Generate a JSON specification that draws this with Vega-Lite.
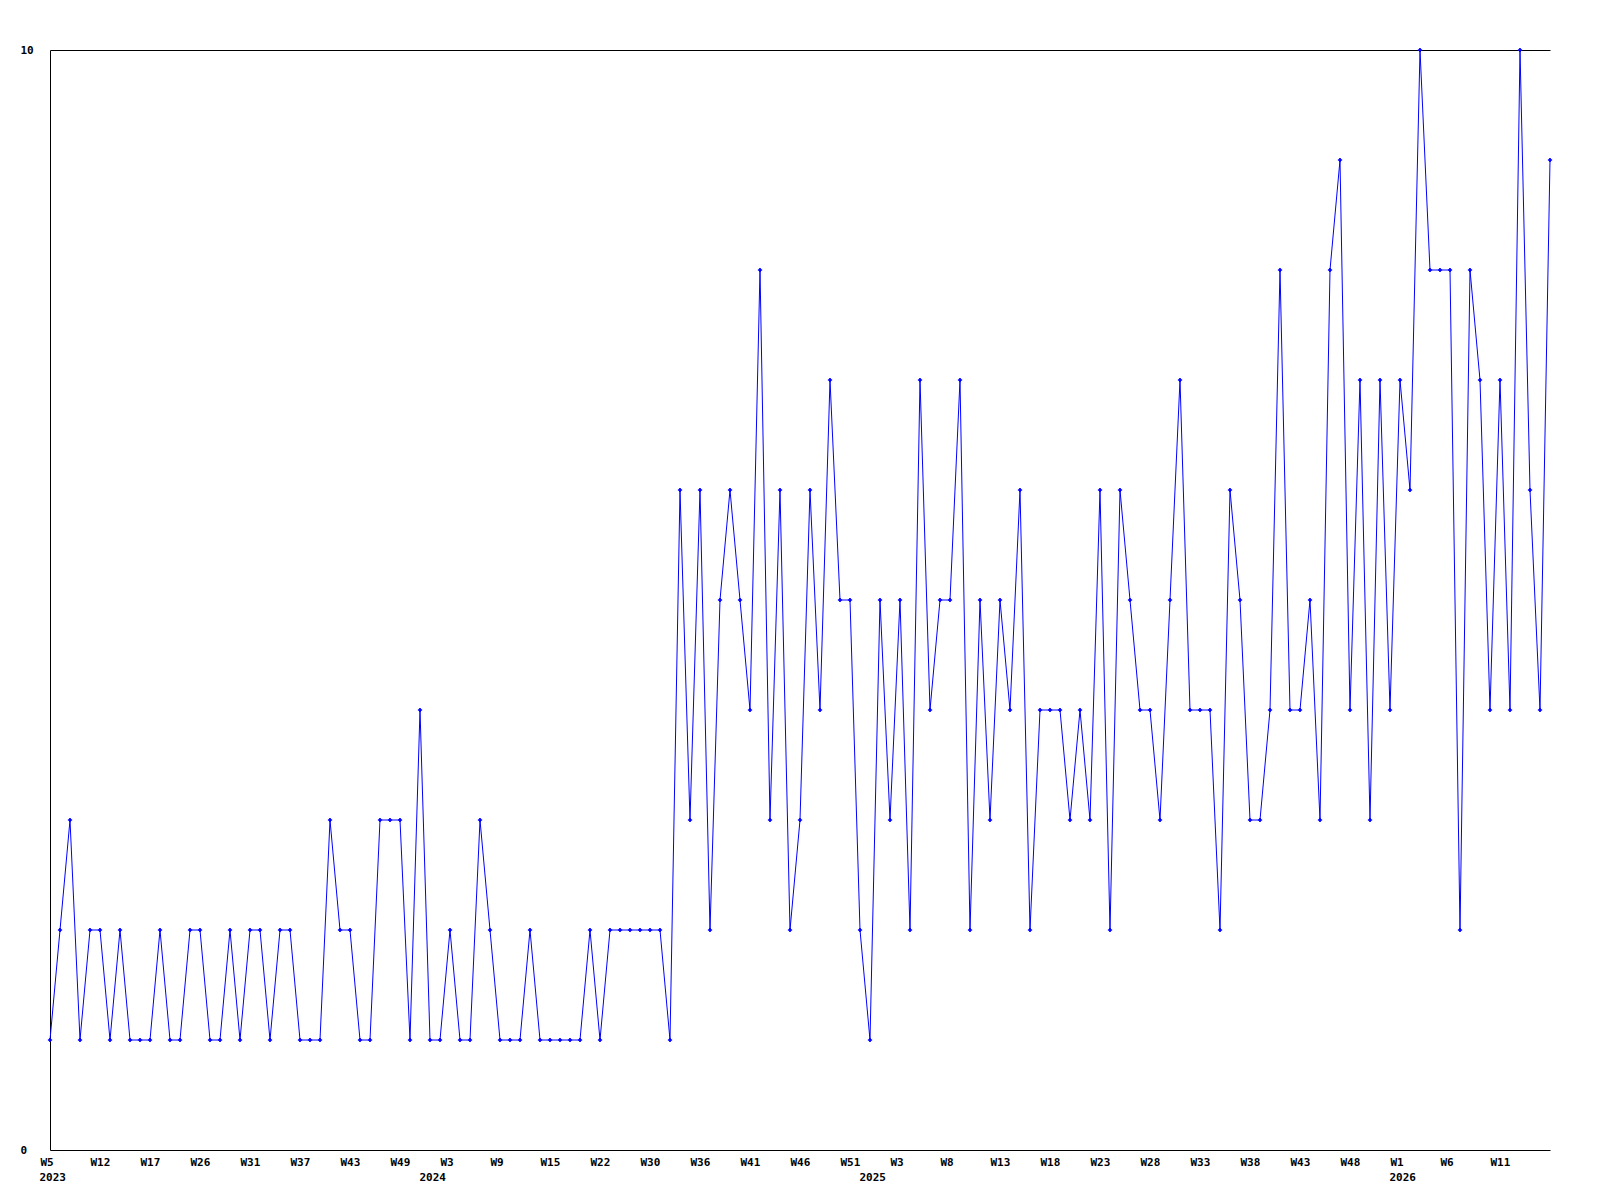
{
  "$schema": "https://vega.github.io/schema/vega-lite/v6.json",
  "width": 1500,
  "height": 1100,
  "autosize": {"type": "none"},
  "padding": {"left": 50, "top": 50, "right": 50, "bottom": 50},
  "background": "white",
  "config": {
    "view": {"stroke": null},
    "axis": {
      "labelFont": "DejaVu Sans Mono",
      "labelFontWeight": "bold",
      "labelFontSize": 11,
      "labelColor": "black",
      "domainColor": "black",
      "domainWidth": 1,
      "grid": false,
      "ticks": false,
      "tickSize": 0,
      "title": null,
      "labelOverlap": false,
      "labelFlush": false,
      "labelBound": false
    }
  },
  "data": {
    "values": [
      {"i":0,"v":1},{"i":1,"v":2},{"i":2,"v":3},{"i":3,"v":1},{"i":4,"v":2},{"i":5,"v":2},{"i":6,"v":1},{"i":7,"v":2},{"i":8,"v":1},{"i":9,"v":1},
      {"i":10,"v":1},{"i":11,"v":2},{"i":12,"v":1},{"i":13,"v":1},{"i":14,"v":2},{"i":15,"v":2},{"i":16,"v":1},{"i":17,"v":1},{"i":18,"v":2},{"i":19,"v":1},
      {"i":20,"v":2},{"i":21,"v":2},{"i":22,"v":1},{"i":23,"v":2},{"i":24,"v":2},{"i":25,"v":1},{"i":26,"v":1},{"i":27,"v":1},{"i":28,"v":3},{"i":29,"v":2},
      {"i":30,"v":2},{"i":31,"v":1},{"i":32,"v":1},{"i":33,"v":3},{"i":34,"v":3},{"i":35,"v":3},{"i":36,"v":1},{"i":37,"v":4},{"i":38,"v":1},{"i":39,"v":1},
      {"i":40,"v":2},{"i":41,"v":1},{"i":42,"v":1},{"i":43,"v":3},{"i":44,"v":2},{"i":45,"v":1},{"i":46,"v":1},{"i":47,"v":1},{"i":48,"v":2},{"i":49,"v":1},
      {"i":50,"v":1},{"i":51,"v":1},{"i":52,"v":1},{"i":53,"v":1},{"i":54,"v":2},{"i":55,"v":1},{"i":56,"v":2},{"i":57,"v":2},{"i":58,"v":2},{"i":59,"v":2},
      {"i":60,"v":2},{"i":61,"v":2},{"i":62,"v":1},{"i":63,"v":6},{"i":64,"v":3},{"i":65,"v":6},{"i":66,"v":2},{"i":67,"v":5},{"i":68,"v":6},{"i":69,"v":5},
      {"i":70,"v":4},{"i":71,"v":8},{"i":72,"v":3},{"i":73,"v":6},{"i":74,"v":2},{"i":75,"v":3},{"i":76,"v":6},{"i":77,"v":4},{"i":78,"v":7},{"i":79,"v":5},
      {"i":80,"v":5},{"i":81,"v":2},{"i":82,"v":1},{"i":83,"v":5},{"i":84,"v":3},{"i":85,"v":5},{"i":86,"v":2},{"i":87,"v":7},{"i":88,"v":4},{"i":89,"v":5},
      {"i":90,"v":5},{"i":91,"v":7},{"i":92,"v":2},{"i":93,"v":5},{"i":94,"v":3},{"i":95,"v":5},{"i":96,"v":4},{"i":97,"v":6},{"i":98,"v":2},{"i":99,"v":4},
      {"i":100,"v":4},{"i":101,"v":4},{"i":102,"v":3},{"i":103,"v":4},{"i":104,"v":3},{"i":105,"v":6},{"i":106,"v":2},{"i":107,"v":6},{"i":108,"v":5},{"i":109,"v":4},
      {"i":110,"v":4},{"i":111,"v":3},{"i":112,"v":5},{"i":113,"v":7},{"i":114,"v":4},{"i":115,"v":4},{"i":116,"v":4},{"i":117,"v":2},{"i":118,"v":6},{"i":119,"v":5},
      {"i":120,"v":3},{"i":121,"v":3},{"i":122,"v":4},{"i":123,"v":8},{"i":124,"v":4},{"i":125,"v":4},{"i":126,"v":5},{"i":127,"v":3},{"i":128,"v":8},{"i":129,"v":9},
      {"i":130,"v":4},{"i":131,"v":7},{"i":132,"v":3},{"i":133,"v":7},{"i":134,"v":4},{"i":135,"v":7},{"i":136,"v":6},{"i":137,"v":10},{"i":138,"v":8},{"i":139,"v":8},
      {"i":140,"v":8},{"i":141,"v":2},{"i":142,"v":8},{"i":143,"v":7},{"i":144,"v":4},{"i":145,"v":7},{"i":146,"v":4},{"i":147,"v":10},{"i":148,"v":6},{"i":149,"v":4},
      {"i":150,"v":9}
    ]
  },
  "encoding": {
    "y": {
      "field": "v",
      "type": "quantitative",
      "scale": {"domain": [0, 10], "nice": false, "zero": true},
      "axis": {"values": [0, 10], "labelAlign": "left", "labelPadding": 30, "labelBaseline": "middle", "title": null}
    }
  },
  "layer": [
    {
      "mark": {"type": "line", "color": "#0000ff", "strokeWidth": 1},
      "encoding": {
        "x": {
          "field": "i",
          "type": "quantitative",
          "scale": {"domain": [0, 150], "nice": false, "zero": false},
          "axis": {
            "orient": "bottom",
            "values": [0,5,10,15,20,25,30,35,40,45,50,55,60,65,70,75,80,85,90,95,100,105,110,115,120,125,130,135,140,145],
            "labelExpr": "['W5','W12','W17','W26','W31','W37','W43','W49','W3','W9','W15','W22','W30','W36','W41','W46','W51','W3','W8','W13','W18','W23','W28','W33','W38','W43','W48','W1','W6','W11'][round(datum.value/5)]",
            "labelAlign": "left",
            "labelOffset": -10,
            "labelPadding": 6,
            "title": null
          }
        }
      }
    },
    {
      "mark": {"type": "point", "shape": "cross", "filled": true, "size": 18, "color": "#0000ff", "opacity": 1},
      "encoding": {
        "x": {
          "field": "i",
          "type": "quantitative",
          "scale": {"domain": [0, 150], "nice": false, "zero": false},
          "axis": {
            "orient": "bottom",
            "values": [0, 38, 82, 135],
            "labelExpr": "datum.value == 0 ? '2023' : datum.value == 38 ? '2024' : datum.value == 82 ? '2025' : '2026'",
            "labelAlign": "left",
            "labelOffset": -11,
            "labelPadding": 21,
            "domain": false,
            "title": null
          }
        }
      }
    },
    {
      "mark": {"type": "point", "opacity": 0},
      "encoding": {
        "x": {
          "field": "i",
          "type": "quantitative",
          "scale": {"domain": [0, 150], "nice": false, "zero": false},
          "axis": {"orient": "top", "labels": false, "domain": true, "title": null}
        }
      }
    }
  ],
  "resolve": {"axis": {"x": "independent"}}
}
